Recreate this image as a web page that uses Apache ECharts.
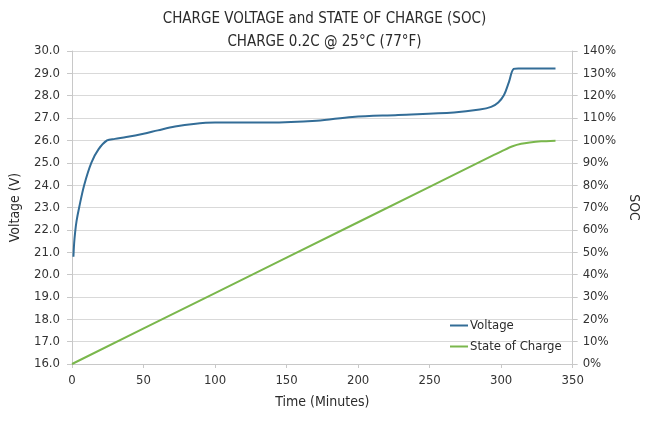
<!DOCTYPE html>
<html>
<head>
<meta charset="utf-8">
<script src="https://cdn.jsdelivr.net/npm/echarts@6/dist/echarts.min.js"></script>
<style>html,body{margin:0;padding:0;background:#fff}#c{width:649px;height:425px}</style>
</head>
<body>
<div id="c"></div>
<script>
const titleLines = ['CHARGE VOLTAGE and STATE OF CHARGE (SOC)', 'CHARGE 0.2C @ 25°C (77°F)'];
const voltageTime = [1, 1.5, 2.2, 3.2, 5, 8.5, 13.5, 18.5, 24.5, 30, 38, 50, 60, 72, 85, 100, 137, 171, 196, 228, 267, 285, 293, 298, 302, 305.5, 308.8, 312, 338];
const voltageValues = [20.8, 21.4, 21.9, 22.4, 23.0, 24.0, 25.0, 25.6, 26.0, 26.07, 26.15, 26.3, 26.45, 26.62, 26.74, 26.8, 26.8, 26.88, 27.05, 27.14, 27.25, 27.38, 27.5, 27.7, 28.03, 28.62, 29.2, 29.22, 29.22];
const socTime = [0, 100, 200, 295, 302, 308, 314, 320, 328, 338];
const socValues = [0, 31.7, 63.4, 93.5, 95.7, 97.4, 98.5, 99.1, 99.6, 99.9];
const seriesNames = ['Voltage', 'State of Charge'];

const FONT = "'Liberation Sans Narrow', 'DejaVu Sans Condensed', 'Open Sans', sans-serif";
const chart = echarts.init(document.getElementById('c'));
const zip = (a, b) => a.map((v, i) => [v, b[i]]);
chart.setOption({
  animation: false,
  textStyle: { fontFamily: FONT },
  title: {
    text: titleLines.join('\n'),
    left: 'center', top: 3,
    textStyle: { fontFamily: FONT, fontSize: 15, fontWeight: 'normal', color: '#2b2b2b', lineHeight: 23 }
  },
  legend: {
    data: seriesNames,
    orient: 'vertical',
    left: 445, top: 314,
    itemWidth: 18, itemHeight: 2, itemGap: 8,
    icon: 'rect',
    textStyle: { fontFamily: FONT, fontSize: 13, color: '#2b2b2b', padding: [0, 0, 0, -3] }
  },
  grid: { left: 71, right: 69, top: 51, bottom: 61 },
  xAxis: {
    type: 'value', min: 0, max: 350, interval: 50,
    name: 'Time (Minutes)', nameLocation: 'middle', nameGap: 31,
    nameTextStyle: { fontFamily: FONT, fontSize: 14, color: '#2b2b2b' },
    axisLine: { lineStyle: { color: '#c8c8c8' } },
    axisTick: { show: true, inside: false, length: 4, lineStyle: { color: '#c8c8c8' } },
    axisLabel: { fontFamily: FONT, fontSize: 13, color: '#333', margin: 10 },
    splitLine: { show: false }
  },
  yAxis: [
    {
      type: 'value', min: 16, max: 30, interval: 1,
      name: 'Voltage (V)', nameLocation: 'middle', nameGap: 50, nameRotate: 90,
      nameTextStyle: { fontFamily: FONT, fontSize: 14, color: '#2b2b2b' },
      axisLine: { show: true, lineStyle: { color: '#c8c8c8' } },
      axisTick: { show: true, length: 5, lineStyle: { color: '#c8c8c8' } },
      axisLabel: { fontFamily: FONT, fontSize: 13, color: '#333', margin: 12, formatter: v => v.toFixed(1) },
      splitLine: { show: true, lineStyle: { color: '#d9d9d9', width: 1 } }
    },
    {
      type: 'value', min: 0, max: 140, interval: 10, position: 'right',
      name: 'SOC', nameLocation: 'middle', nameGap: 54, nameRotate: -90,
      nameTextStyle: { fontFamily: FONT, fontSize: 14, color: '#2b2b2b' },
      axisLine: { show: true, lineStyle: { color: '#c8c8c8' } },
      axisTick: { show: true, length: 5, lineStyle: { color: '#c8c8c8' } },
      axisLabel: { fontFamily: FONT, fontSize: 13, color: '#333', margin: 10, formatter: '{value}%' },
      splitLine: { show: false }
    }
  ],
  series: [
    {
      name: seriesNames[0], type: 'line', yAxisIndex: 0,
      data: zip(voltageTime, voltageValues),
      smooth: 0.35, showSymbol: false,
      lineStyle: { color: '#336d97', width: 2 }, itemStyle: { color: '#336d97' }
    },
    {
      name: seriesNames[1], type: 'line', yAxisIndex: 1,
      data: zip(socTime, socValues),
      smooth: 0.2, showSymbol: false,
      lineStyle: { color: '#7ab74c', width: 2 }, itemStyle: { color: '#7ab74c' }
    }
  ]
});
</script>
</body>
</html>
